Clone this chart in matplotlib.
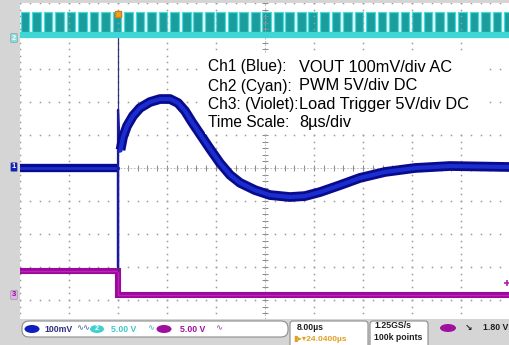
import numpy as np
import matplotlib
matplotlib.use("Agg")
import matplotlib.pyplot as plt
from matplotlib.patches import FancyBboxPatch, Ellipse, Rectangle
from matplotlib.transforms import IdentityTransform

plt.rcParams['font.family'] = ['Liberation Sans', 'DejaVu Sans']

# screen setup (10 x ~9.6 divisions visible)
time_per_div_us = 8.0
t_left_us = -16.0
ch1_mv_per_div = 100.0
ch2_v_per_div = 5.0
ch3_v_per_div = 5.0
ch2_offset_div = 4.0
ch3_offset_div = -3.85

# Ch1 VOUT (mV, AC)
vout_pre_t = [-16.0, -0.05]
vout_pre_mv = [0, 0]
vout_spike_t = [0.0, 0.0, 0.0, 0.3]
vout_spike_mv = [0, -300, 176, 50]
vout_t = [0.41, 0.82, 1.47, 2.45, 3.59, 5.22, 6.86, 8.49, 9.80, 10.94, 12.08,
          13.39, 15.02, 16.65, 18.29, 19.92, 22.37, 24.82, 28.08, 30.53, 32.98,
          36.24, 39.51, 43.59, 48.49, 54.20, 64.0]
vout_mv = [55, 94, 127, 158, 182, 200, 209, 209, 197, 173, 139,
           103, 58, 15, -21, -45, -67, -82, -88, -85, -73,
           -52, -30, -12, 0, 6, 3]

# Ch2 PWM
pwm_first_edge_us = -15.9
pwm_period_us = 1.88
pwm_on_us = 1.42
pwm_high_v = 3.6

# Ch3 load trigger
ch3_t = [-16.0, 0.0, 0.0, 64.0]
ch3_v = [3.7, 3.7, 0.0, 0.0]
ch3_trig_level_v = 1.8

W, H = 510, 345
fig = plt.figure(figsize=(W / 100, H / 100), dpi=100)
fig.patch.set_facecolor('#d5d5d5')

ax_top, ax_bot = 3, 319
ax = fig.add_axes([20 / W, 1 - ax_bot / H, 490 / W, (ax_bot - ax_top) / H])
ax.set_facecolor('white')
ax.set_xlim(t_left_us, t_left_us + 10 * time_per_div_us)
ax.set_ylim(-(ax_bot - 168) / 33, (168 - ax_top) / 33)
for s in ax.spines.values():
    s.set_visible(False)
ax.set_xticks([])
ax.set_yticks([])

# graticule dots
y0, y1 = ax.get_ylim()
xs_major = [t_left_us + i * time_per_div_us for i in range(11)]
ys_minor = np.arange(np.ceil(y0 * 5) / 5, y1 + 0.01, 0.2)
xs_minor = np.arange(t_left_us, t_left_us + 80.01, time_per_div_us / 5)
for xm in xs_major:
    ax.plot([xm] * len(ys_minor), ys_minor, 's', ms=1.1, mew=0, color='#9a9a9a')
for ym in range(int(np.ceil(y0)), int(np.floor(y1)) + 1):
    ax.plot(xs_minor, [ym] * len(xs_minor), 's', ms=1.1, mew=0, color='#9a9a9a')
# centre axes with small ticks
ax.plot(xs_minor, [0] * len(xs_minor), '|', ms=4, mew=0.7, color='#8a8a8a')
ax.plot([24] * len(ys_minor), ys_minor, '_', ms=4, mew=0.7, color='#8a8a8a')
ax.axhline(0, color='#b0b0b0', lw=0.6, ls=(0, (2, 2)))
ax.axvline(24, color='#b0b0b0', lw=0.6, ls=(0, (2, 2)))

# Ch3
ch3_div = [ch3_offset_div + v / ch3_v_per_div for v in ch3_v]
ax.plot(ch3_t, ch3_div, color='#9a0a9a', lw=4.4, solid_joinstyle='miter')
ax.plot(ch3_t, ch3_div, color='#c020c0', lw=1.0)

# vertical edge through the screen at the trigger
ax.plot([0, 0], [ch3_div[0], ch2_offset_div], color='#353575', lw=0.9)

# Ch1
ax.plot(vout_pre_t, np.array(vout_pre_mv) / ch1_mv_per_div, color='#0a0a8c', lw=6.0,
        solid_capstyle='butt')
ax.plot(vout_pre_t, np.array(vout_pre_mv) / ch1_mv_per_div, color='#1a2ed0', lw=2.0)
ax.plot(vout_spike_t, np.array(vout_spike_mv) / ch1_mv_per_div, color='#1a1aa0', lw=1.6)
ax.plot(vout_t, np.array(vout_mv) / ch1_mv_per_div, color='#0a0a8c', lw=7.0,
        solid_capstyle='butt', solid_joinstyle='round')
ax.plot(vout_t, np.array(vout_mv) / ch1_mv_per_div, color='#1a2ed0', lw=3.0,
        solid_joinstyle='round')

# Ch2 PWM pulses
starts = np.arange(pwm_first_edge_us, t_left_us + 80, pwm_period_us)
hi = pwm_high_v / ch2_v_per_div
ax.broken_barh([(s, pwm_on_us) for s in starts], (ch2_offset_div, hi),
               facecolors='#1c9d9d', edgecolors='#45dcdc', linewidth=0.9)
ax.plot([t_left_us, t_left_us + 80], [ch2_offset_div + 0.03] * 2, color='#3fd6d6', lw=4.5)

# trigger position and level markers
ax.plot(0, 4.68, 's', ms=4.5, color='#f0a028', mec='#d08010', zorder=10)
ax.plot(63.5, ch3_offset_div + ch3_trig_level_v / ch3_v_per_div, '+', ms=5, mew=1.2,
        color='#b020b0', zorder=10)

# legend text block
box = Rectangle((205 / W, 1 - 134 / H), 283 / W, 80 / H, transform=fig.transFigure,
                facecolor='white', edgecolor='none', zorder=5)
fig.patches.append(box)
rows = [("Ch1 (Blue):", "VOUT 100mV/div AC"),
        ("Ch2 (Cyan):", "PWM 5V/div DC"),
        ("Ch3: (Violet):", "Load Trigger 5V/div DC"),
        ("Time Scale:", "8µs/div")]
for (lab, val), yy in zip(rows, [67, 86, 105, 123]):
    fig.text(208 / W, 1 - yy / H, lab, fontsize=11.2, va='center', ha='left', zorder=6)
    fig.text(299 / W, 1 - yy / H, val, fontsize=11.8, va='center', ha='left', zorder=6)

# left strip channel tags
tags = [("2", 38, '#7fe0e0', 'white'), ("1", 167, '#1020c0', 'white'), ("3", 295, '#e0b0e8', '#8a108a')]
for txt, yy, fc, tc in tags:
    fig.text(14 / W, 1 - yy / H, txt, fontsize=5.5, fontweight='bold', color=tc,
             ha='center', va='center',
             bbox=dict(boxstyle='round,pad=0.15', fc=fc, ec='#909090', lw=0.4))

# status bar
idt = IdentityTransform()


def pbox(x0, y0, x1, y1, r=5):
    p = FancyBboxPatch((x0, H - y1), x1 - x0, y1 - y0,
                       boxstyle='round,pad=0,rounding_size=%d' % r,
                       transform=idt, facecolor='white', edgecolor='#8c8c8c', lw=0.8)
    fig.patches.append(p)


def ell(cx, cy, w, h, fc, label, tc='white'):
    fig.patches.append(Ellipse((cx, H - cy), w, h, transform=idt, facecolor=fc,
                               edgecolor='none'))
    fig.text(cx / W, 1 - cy / H, label, fontsize=5, color=tc, ha='center', va='center',
             fontweight='bold')


def stxt(x, y, s, c='#202020', fs=6.3):
    fig.text(x / W, 1 - y / H, s, fontsize=fs, color=c, ha='left', va='center',
             fontweight='bold')


pbox(22, 321, 288, 337, 7)
pbox(290, 321, 368, 350, 3)
pbox(370, 321, 428, 350, 3)
ell(32, 329, 15, 8, '#1020c0', "1", '#1020c0')
stxt(44, 329, "100mV", '#303080')
stxt(76, 329, "∿∿", '#6a7ab0', 6)
ell(97, 329, 14, 8, '#40d0d0', "2")
stxt(111, 329, "5.00 V", '#40c8c8')
stxt(147, 329, "∿", '#60c0c0', 6)
ell(164, 329, 15, 8, '#a010a0', "3", '#a010a0')
stxt(180, 329, "5.00 V", '#a010a0')
stxt(215, 329, "∿", '#b060b0', 6)
stxt(297, 327, "8.00µs", '#202020')
stxt(293, 339, "▮▸▾24.0400µs", '#e0a020', 6)
stxt(374, 326, "1.25GS/s", '#202020')
stxt(374, 338, "100k points", '#202020')
ell(448, 328, 16, 8, '#a010a0', "3", '#a010a0')
stxt(465, 328, "↘", '#202020', 6.5)
stxt(483, 328, "1.80 V", '#202020')

fig.savefig('out.png', dpi=100, facecolor=fig.get_facecolor())
